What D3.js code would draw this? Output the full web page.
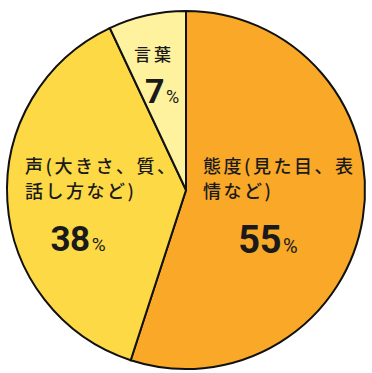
<!DOCTYPE html>
<html>
<head>
<meta charset="utf-8">
<script src="https://cdn.jsdelivr.net/npm/d3@7"></script>
<style>
  html, body { margin: 0; padding: 0; background: #fff; }
  svg { display: block; }
  text { font-family: "Noto Sans CJK JP", "Noto Sans", sans-serif; fill: #1a1a1a; }
  .num { font-family: Roboto, "Liberation Sans", sans-serif; }
</style>
</head>
<body>
<svg id="chart" width="372" height="373"></svg>
<script>
// ---- data ----
const categories = ["態度(見た目、表情など)", "声(大きさ、質、話し方など)", "言葉"];
const values = [55, 38, 7];
const labelLines = [["態度(見た目、表", "情など)"], ["声(大きさ、質、", "話し方など)"], ["言葉"]];
const colors = ["#F9A828", "#FDD946", "#FEF29E"];

// ---- layout ----
const W = 372, H = 373;
const cx = 186, cy = 190, R = 179;
const layout = [
  { lx: 203, anchor: "start", ly: 173, nx: 268, ny: 253, nsize: 38, psize: 20 },
  { lx: 25,  anchor: "start", ly: 173, nx: 78,  ny: 251, nsize: 35, psize: 19 },
  { lx: 154, anchor: "middle", ly: 61, nx: 162, ny: 103, nsize: 34, psize: 18 }
];

const svg = d3.select("#chart");
const g = svg.append("g").attr("transform", `translate(${cx},${cy})`);

const pie = d3.pie().value(d => d).sort(null);
const arc = d3.arc().innerRadius(0).outerRadius(R);
const arcs = pie(values);

g.selectAll("path.slice")
  .data(arcs)
  .join("path")
  .attr("class", "slice")
  .attr("d", arc)
  .attr("fill", (d, i) => colors[i])
  .attr("stroke", "#111")
  .attr("stroke-width", 2)
  .attr("stroke-linejoin", "miter");

// labels
arcs.forEach((a, i) => {
  const L = layout[i];
  const t = svg.append("text")
    .attr("x", L.lx)
    .attr("y", L.ly)
    .attr("text-anchor", L.anchor)
    .style("font-size", i === 2 ? "17px" : "18px")
    .style("font-weight", 500)
    .style("letter-spacing", i === 2 ? "3px" : "2.5px");
  labelLines[i].forEach((line, k) => {
    t.append("tspan")
      .attr("x", L.lx)
      .attr("dy", k === 0 ? 0 : 25)
      .text(line);
  });
  const n = svg.append("text")
    .attr("class", "num")
    .attr("x", L.nx)
    .attr("y", L.ny)
    .attr("text-anchor", "middle")
    .style("font-weight", 700);
  n.append("tspan").style("font-size", L.nsize + "px").style("letter-spacing", "-0.5px").text(values[i]);
  n.append("tspan").style("font-size", L.psize + "px").style("font-weight", 400).attr("dx", 2).text("%");
});
</script>
</body>
</html>
